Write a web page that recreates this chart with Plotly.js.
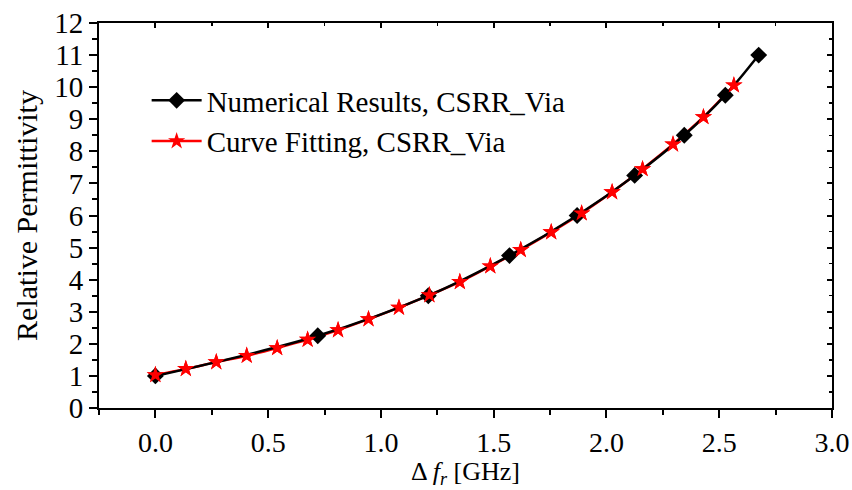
<!DOCTYPE html>
<html>
<head>
<meta charset="utf-8">
<script src="https://cdn.plot.ly/plotly-3.0.1.min.js"></script>
<style>html,body{margin:0;padding:0;background:#fff;}#chart{width:852px;height:490px;}</style>
</head>
<body>
<div id="chart"></div>
<script>
// Numerical results (black diamonds)
const numX = [0, 0.72, 1.21, 1.57, 1.87, 2.125, 2.345, 2.527, 2.675];
const numY = [1, 2.25, 3.5, 4.75, 6.0, 7.25, 8.5, 9.75, 11.0];
// Curve fitting (red stars)
const fitX = [0, 0.135, 0.27, 0.405, 0.54, 0.675, 0.81, 0.945, 1.08, 1.215, 1.35, 1.485, 1.62, 1.755, 1.89, 2.025, 2.16, 2.295, 2.43, 2.565];
const fitY = [1.03, 1.22, 1.43, 1.63, 1.87, 2.13, 2.43, 2.77, 3.13, 3.52, 3.93, 4.42, 4.93, 5.48, 6.07, 6.73, 7.45, 8.22, 9.07, 10.06];
const seriesNames = ['Numerical Results, CSRR_Via', 'Curve Fitting, CSRR_Via'];
const xTickVals = [0, 0.5, 1, 1.5, 2, 2.5, 3];
const xTickText = ['0.0', '0.5', '1.0', '1.5', '2.0', '2.5', '3.0'];
const xTitle = 'Δ <i>f</i><sub><i>r</i></sub> [GHz]';
const yTitle = 'Relative Permittivity';

const FONT = '"Liberation Serif", "Times New Roman", serif';
const FS = 29;

const traces = [
  // red fitted line + stars (legend entry), drawn underneath
  {x: fitX, y: fitY, name: seriesNames[1], mode: 'lines+markers', line: {color: 'red', width: 2.5, shape: 'spline'},
   marker: {symbol: 'star', size: 13, color: 'red'}, legendrank: 2, hoverinfo: 'skip'},
  // black numerical line + diamonds
  {x: numX, y: numY, name: seriesNames[0], mode: 'lines+markers', line: {color: 'black', width: 2.5, shape: 'spline'},
   marker: {symbol: 'diamond', size: 13, color: 'black'}, legendrank: 1, hoverinfo: 'skip'},
  // stars on top of black line
  {x: fitX, y: fitY, name: seriesNames[1], mode: 'markers', marker: {symbol: 'star', size: 13, color: 'red'},
   showlegend: false, hoverinfo: 'skip'},
  // empty trace to create the mirrored top/right axes
  {x: [], y: [], xaxis: 'x2', yaxis: 'y2', showlegend: false, hoverinfo: 'skip', mode: 'markers'}
];

const axCommon = {showgrid: false, zeroline: false, linecolor: 'black', linewidth: 2, tickcolor: 'black', tickwidth: 2};

const layout = {
  width: 852, height: 490,
  margin: {l: 99, r: 20, t: 23, b: 82},
  paper_bgcolor: 'white', plot_bgcolor: 'white',
  font: {family: FONT, color: 'black', size: FS},
  showlegend: true,
  legend: {x: 0.065, y: 0.865, xanchor: 'left', yanchor: 'top', bgcolor: 'rgba(0,0,0,0)', borderwidth: 0,
           font: {family: FONT, size: 29, color: 'black'}, itemwidth: 50, tracegroupgap: 0},
  xaxis: Object.assign({}, axCommon, {
    range: [-0.25, 3.0], tickvals: xTickVals, ticktext: xTickText,
    ticks: 'outside', ticklen: 8, showline: true,
    minor: {dtick: 0.25, tick0: 0, ticks: 'outside', ticklen: 5, tickwidth: 2, tickcolor: 'black'},
    tickfont: {family: FONT, size: 28}
  }),
  yaxis: Object.assign({}, axCommon, {
    range: [0, 12], dtick: 1, tick0: 0, ticks: 'outside', ticklen: 8, showline: true,
    minor: {dtick: 0.5, ticks: 'outside', ticklen: 5, tickwidth: 2, tickcolor: 'black'},
    tickfont: {family: FONT, size: FS},
    title: {text: yTitle, font: {family: FONT, size: 30}, standoff: 8}
  }),
  xaxis2: Object.assign({}, axCommon, {
    overlaying: 'x', side: 'top', anchor: 'y2', range: [-0.25, 3.0], tickvals: xTickVals,
    ticks: 'inside', ticklen: 5, showticklabels: false, showline: true,
    minor: {dtick: 0.25, tick0: 0, ticks: 'inside', ticklen: 3, tickwidth: 1.5, tickcolor: 'black'}
  }),
  yaxis2: Object.assign({}, axCommon, {
    overlaying: 'y', side: 'right', anchor: 'x2', range: [0, 12], dtick: 1, tick0: 0,
    ticks: 'inside', ticklen: 5, showticklabels: false, showline: true,
    minor: {dtick: 0.5, ticks: 'inside', ticklen: 3, tickwidth: 1.5, tickcolor: 'black'}
  }),
  annotations: [
    {text: xTitle, xref: 'paper', yref: 'paper', x: 0.5, y: -0.125, xanchor: 'center', yanchor: 'top',
     showarrow: false, borderpad: 0, font: {family: FONT, size: 26, color: 'black'}}
  ]
};

Plotly.newPlot('chart', traces, layout, {displayModeBar: false, staticPlot: true});
</script>
</body>
</html>
